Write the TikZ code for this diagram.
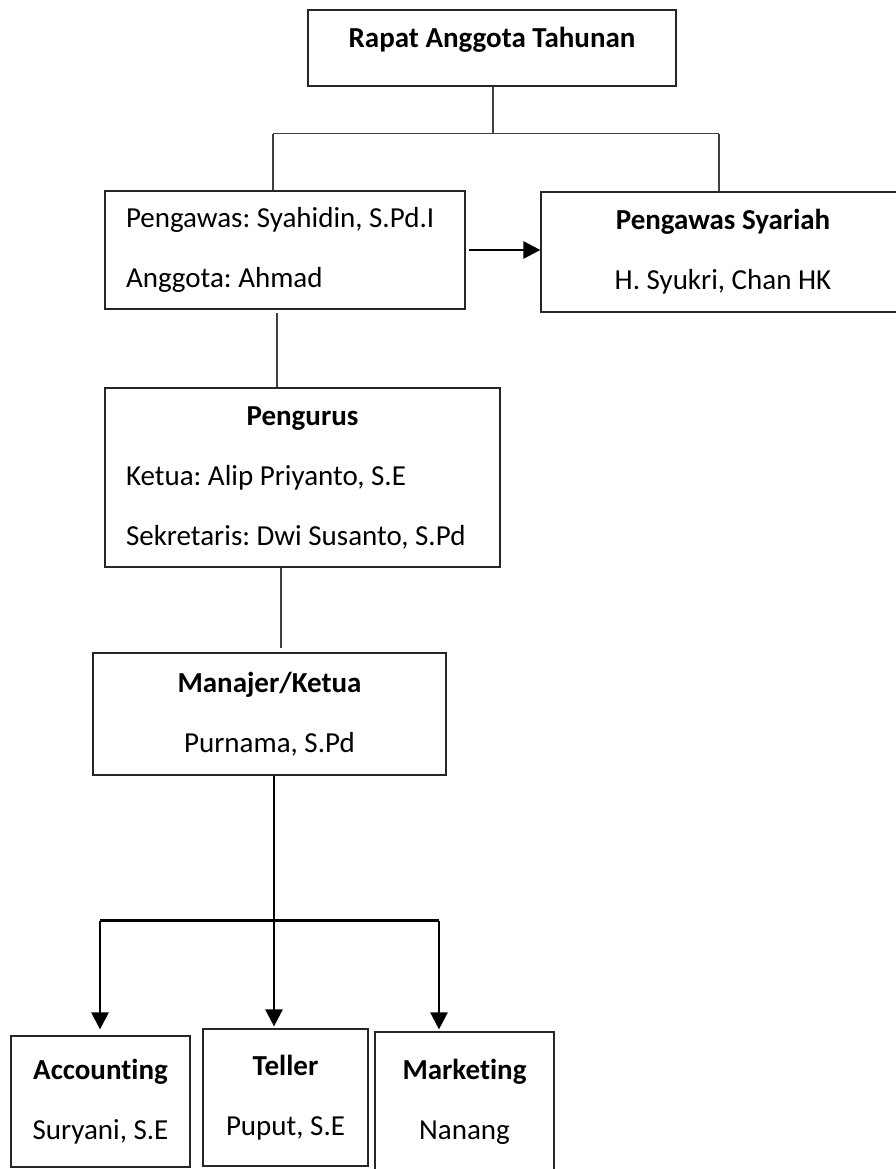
\documentclass[tikz,border=0pt]{standalone}
\usepackage{fontspec}
\setmainfont{Carlito}[Ligatures=NoCommon]
\frenchspacing
\usetikzlibrary{arrows.meta}
\begin{document}
\begin{tikzpicture}[x=1pt,y=-1pt,
	box/.style={draw=black!85,line width=1.2pt,inner sep=0pt,align=center,
		font=\fontsize{29}{60}\selectfont\frenchspacing},
	leftbox/.style={box,align=flush left,inner xsep=21pt},
	link/.style={draw=black!75,line width=1.2pt},
	thick link/.style={draw=black,line width=2.6pt},
	tip/.style={-{Triangle[length=17pt,width=17pt]}}]
	\useasboundingbox (0,0) rectangle (896,1169);

	\node[box,minimum width=368pt,text height=37.5pt,text depth=38.5pt] (rat) at (492,48) {\textbf{Rapat Anggota Tahunan}};
	\node[leftbox,text width=318pt,minimum height=118pt] (pengawas) at (285,250) {Pengawas: Syahidin, S.Pd.I\\Anggota: Ahmad};
	\node[box,minimum width=364pt,minimum height=120pt] (syariah) at (723,252) {\textbf{Pengawas Syariah}\\H. Syukri, Chan HK};
	\node[leftbox,text width=353pt,minimum height=179pt] (pengurus) at (302.5,477.5)
		{\makebox[\hsize]{\textbf{Pengurus}}\\Ketua: Alip Priyanto, S.E\\Sekretaris: Dwi Susanto, S.Pd};
	\node[box,minimum width=353pt,minimum height=122pt] (manajer) at (269.5,714) {\textbf{Manajer/Ketua}\\Purnama, S.Pd};
	\node[box,minimum width=179pt,minimum height=131pt] (accounting) at (100.5,1101.5) {\textbf{Accounting}\\Suryani, S.E};
	\node[box,minimum width=165pt,minimum height=137pt] (teller) at (285.5,1097.5) {\textbf{Teller}\\Puput, S.E};
	\node[box,minimum width=179pt,minimum height=140pt] (marketing) at (464.5,1102) {\textbf{Marketing}\\Nanang};

	\coordinate (split) at ([yshift=-47pt]rat.south);
	\draw[link] ([xshift=1pt]rat.south) -- ([xshift=1pt]split);
	\draw[link] ([xshift=-12pt]pengawas.north |- split) -- ([xshift=-4pt]syariah.north |- split);
	\draw[link] ([xshift=-12pt]pengawas.north |- split) -- ([xshift=-12pt]pengawas.north);
	\draw[link] ([xshift=-4pt]syariah.north |- split) -- ([xshift=-4pt]syariah.north);
	\draw[thick link,tip] ([xshift=3pt]pengawas.east) -- (syariah.west |- pengawas.east);

	\draw[link] ([xshift=-8pt,yshift=-3pt]pengawas.south) -- ([xshift=-8pt]pengawas.south |- pengurus.north);
	\draw[link] ([xshift=-21.5pt]pengurus.south) -- ([xshift=-21.5pt,yshift=4pt]pengurus.south |- manajer.north);

	\coordinate (branch) at ([yshift=-145pt]manajer.south);
	\draw[thick link,tip] ([xshift=4.5pt]manajer.south) -- ([xshift=4.5pt,yshift=2pt]manajer.south |- teller.north);
	\draw[thick link] ([xshift=-0.5pt]accounting.north |- branch) -- ([xshift=-25.5pt]marketing.north |- branch);
	\draw[thick link,tip] ([xshift=-0.5pt]accounting.north |- branch) -- ([xshift=-0.5pt,yshift=6pt]accounting.north);
	\draw[thick link,tip] ([xshift=-25.5pt]marketing.north |- branch) -- ([xshift=-25.5pt,yshift=2pt]marketing.north);
\end{tikzpicture}
\end{document}
